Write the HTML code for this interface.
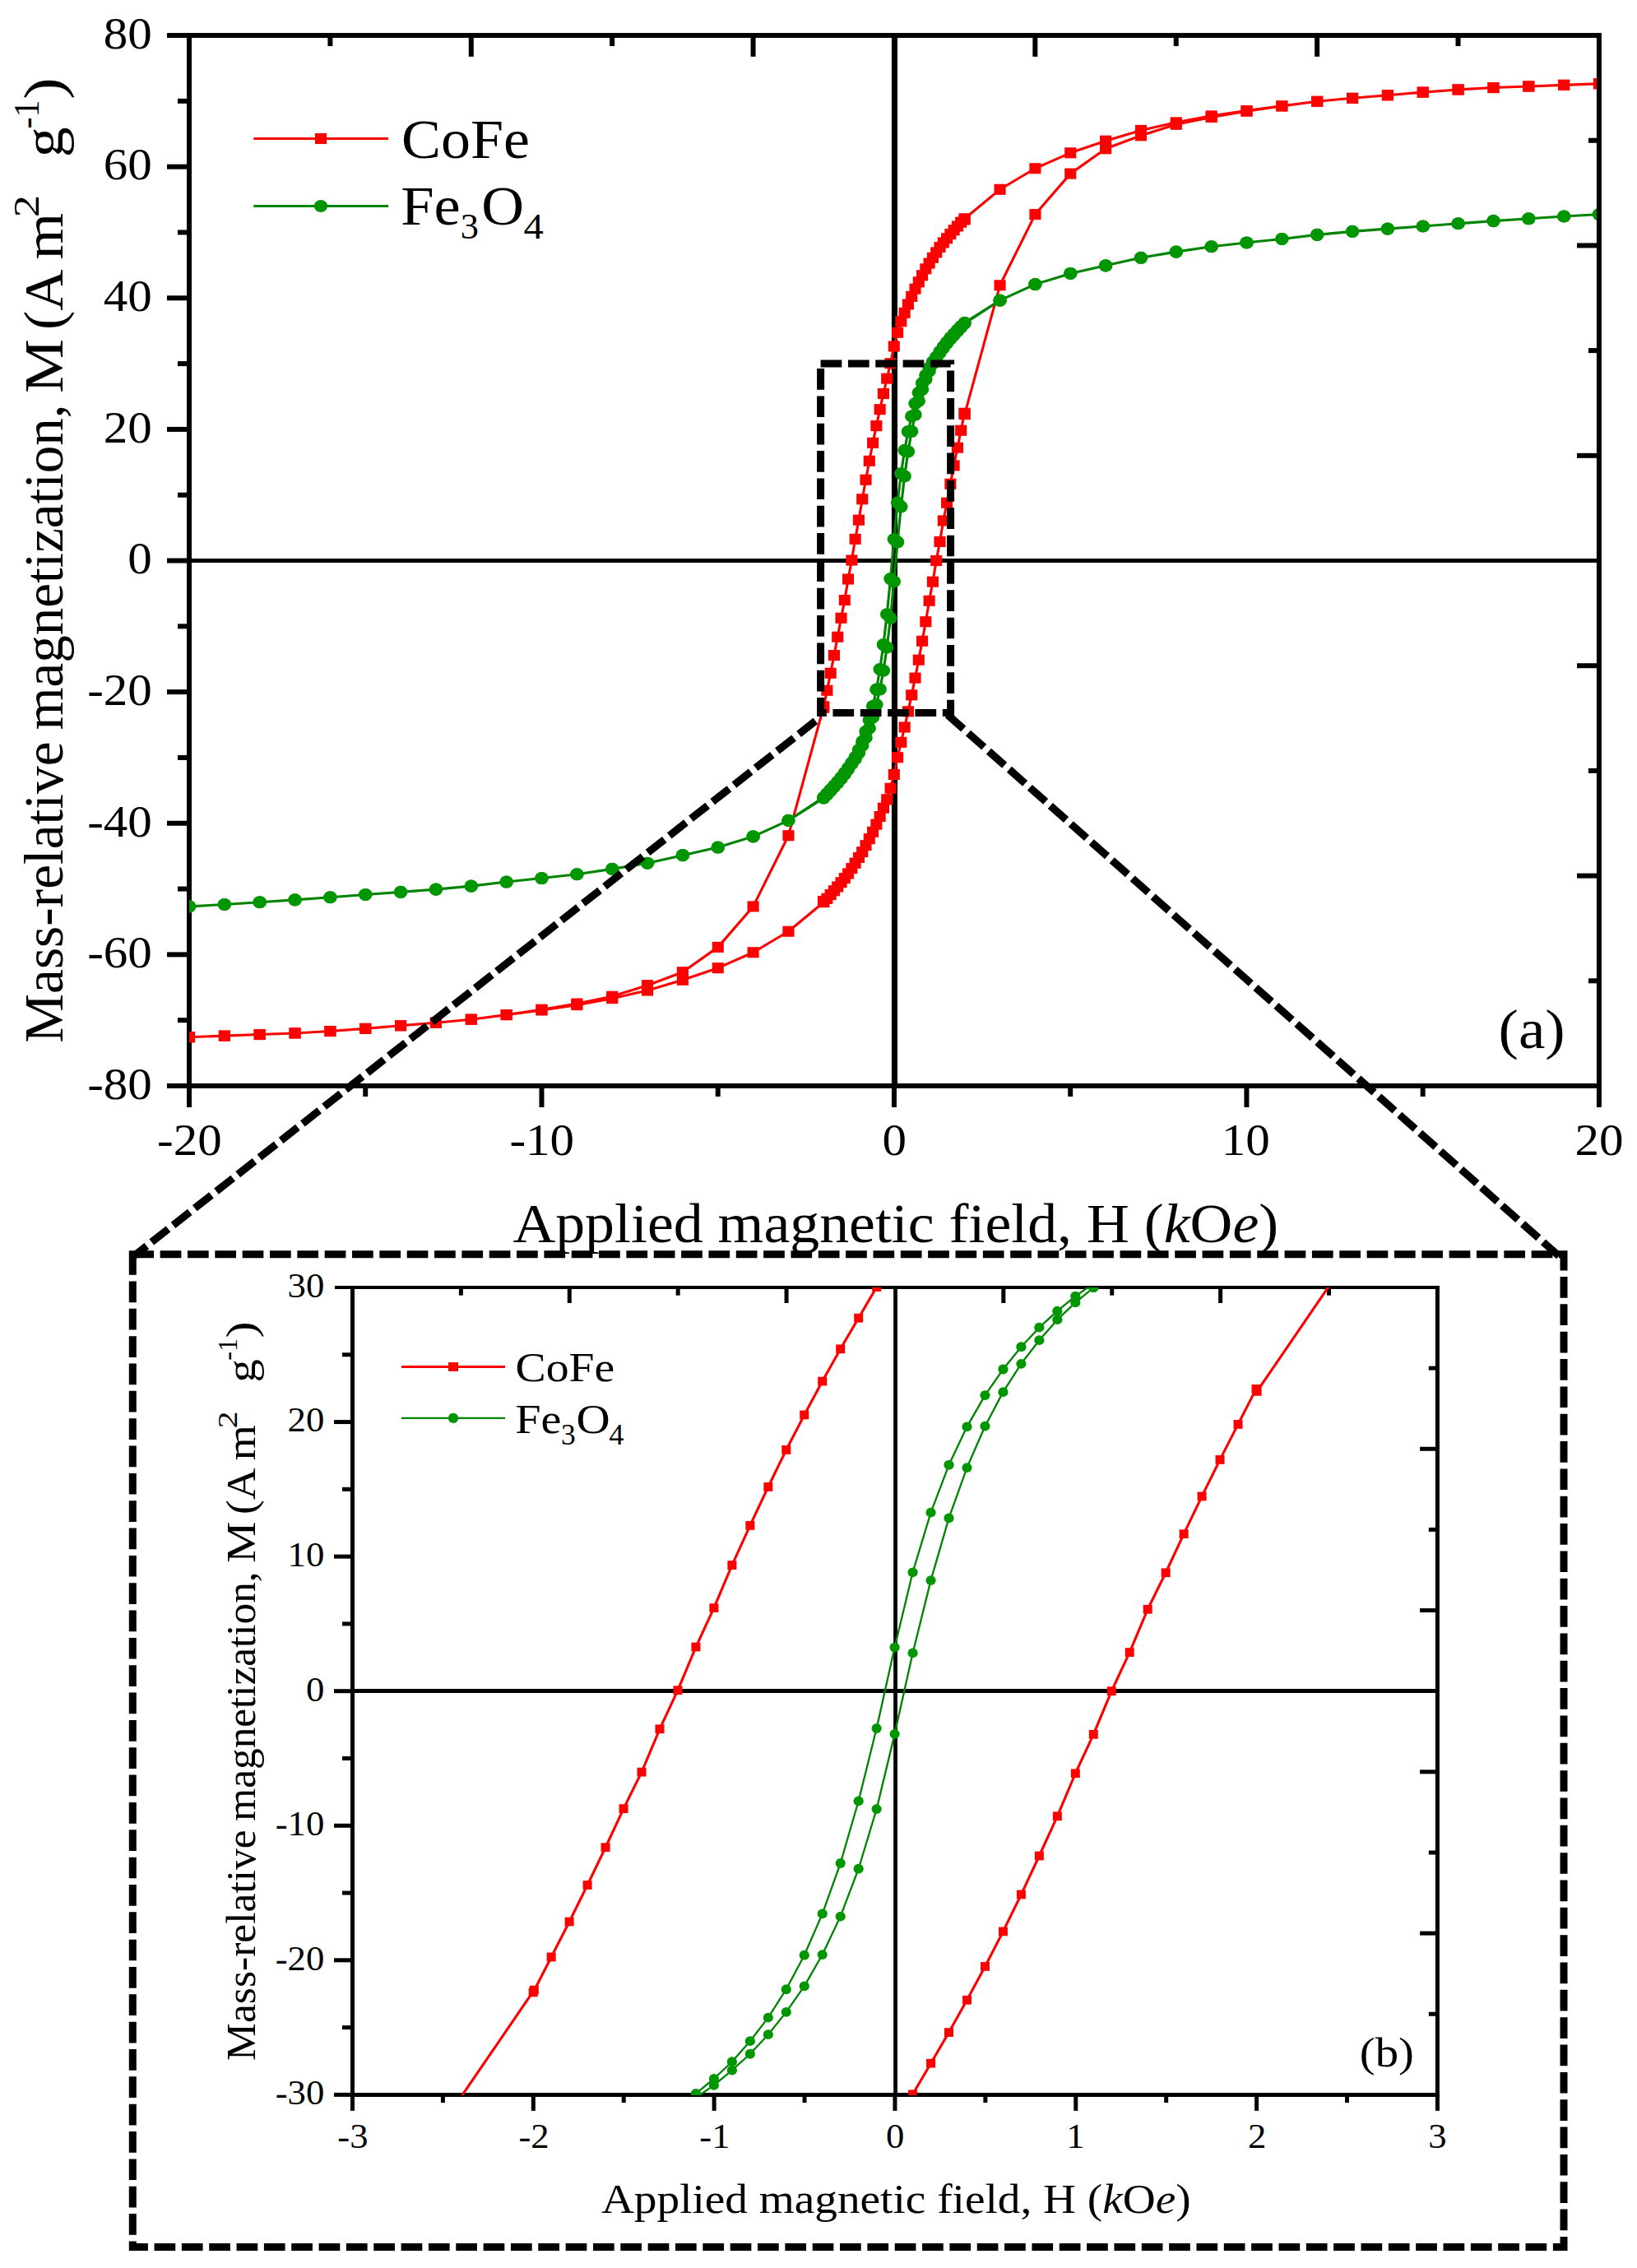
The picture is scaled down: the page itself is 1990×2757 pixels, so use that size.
<!DOCTYPE html>
<html lang="en"><head><meta charset="utf-8"><title>Magnetization hysteresis loops: CoFe and Fe3O4</title>
<style>
html,body{margin:0;padding:0;background:#fff;}
body{width:1990px;height:2757px;overflow:hidden;}
svg{display:block;}
text{white-space:pre;}
</style></head><body>
<svg width="1990" height="2757" viewBox="0 0 1990 2757" font-family="'Liberation Serif', serif" fill="#000">
<defs>
<clipPath id="ca"><rect x="230" y="43.05" width="1711.1" height="1276.95"/></clipPath>
<clipPath id="cb"><rect x="428.5" y="1565" width="1316.5" height="981.9"/></clipPath>
</defs>
<rect width="1990" height="2757" fill="#fff"/>
<!-- panel (a): full hysteresis loops -->
<g id="panel-a">
<rect x="230" y="43.05" width="1713.9" height="1276.95" fill="none" stroke="#000" stroke-width="6.0"/>
<line x1="203" y1="1320" x2="230" y2="1320" stroke="#000" stroke-width="6" />
<line x1="216" y1="1240.19" x2="230" y2="1240.19" stroke="#000" stroke-width="6" />
<line x1="203" y1="1160.38" x2="230" y2="1160.38" stroke="#000" stroke-width="6" />
<line x1="216" y1="1080.57" x2="230" y2="1080.57" stroke="#000" stroke-width="6" />
<line x1="203" y1="1000.76" x2="230" y2="1000.76" stroke="#000" stroke-width="6" />
<line x1="216" y1="920.95" x2="230" y2="920.95" stroke="#000" stroke-width="6" />
<line x1="203" y1="841.14" x2="230" y2="841.14" stroke="#000" stroke-width="6" />
<line x1="216" y1="761.33" x2="230" y2="761.33" stroke="#000" stroke-width="6" />
<line x1="203" y1="681.52" x2="230" y2="681.52" stroke="#000" stroke-width="6" />
<line x1="216" y1="601.72" x2="230" y2="601.72" stroke="#000" stroke-width="6" />
<line x1="203" y1="521.91" x2="230" y2="521.91" stroke="#000" stroke-width="6" />
<line x1="216" y1="442.1" x2="230" y2="442.1" stroke="#000" stroke-width="6" />
<line x1="203" y1="362.29" x2="230" y2="362.29" stroke="#000" stroke-width="6" />
<line x1="216" y1="282.48" x2="230" y2="282.48" stroke="#000" stroke-width="6" />
<line x1="203" y1="202.67" x2="230" y2="202.67" stroke="#000" stroke-width="6" />
<line x1="216" y1="122.86" x2="230" y2="122.86" stroke="#000" stroke-width="6" />
<line x1="203" y1="43.05" x2="230" y2="43.05" stroke="#000" stroke-width="6" />
<line x1="230" y1="1320" x2="230" y2="1346" stroke="#000" stroke-width="6" />
<line x1="444.24" y1="1320" x2="444.24" y2="1333" stroke="#000" stroke-width="6" />
<line x1="658.48" y1="1320" x2="658.48" y2="1346" stroke="#000" stroke-width="6" />
<line x1="872.71" y1="1320" x2="872.71" y2="1333" stroke="#000" stroke-width="6" />
<line x1="1086.95" y1="1320" x2="1086.95" y2="1346" stroke="#000" stroke-width="6" />
<line x1="1301.19" y1="1320" x2="1301.19" y2="1333" stroke="#000" stroke-width="6" />
<line x1="1515.43" y1="1320" x2="1515.43" y2="1346" stroke="#000" stroke-width="6" />
<line x1="1729.66" y1="1320" x2="1729.66" y2="1333" stroke="#000" stroke-width="6" />
<line x1="1943.9" y1="1320" x2="1943.9" y2="1346" stroke="#000" stroke-width="6" />
<line x1="401.39" y1="43.05" x2="401.39" y2="56.05" stroke="#000" stroke-width="6" />
<line x1="572.78" y1="43.05" x2="572.78" y2="68.85" stroke="#000" stroke-width="6" />
<line x1="744.17" y1="43.05" x2="744.17" y2="56.05" stroke="#000" stroke-width="6" />
<line x1="915.56" y1="43.05" x2="915.56" y2="68.85" stroke="#000" stroke-width="6" />
<line x1="1258.34" y1="43.05" x2="1258.34" y2="68.85" stroke="#000" stroke-width="6" />
<line x1="1429.73" y1="43.05" x2="1429.73" y2="56.05" stroke="#000" stroke-width="6" />
<line x1="1601.12" y1="43.05" x2="1601.12" y2="68.85" stroke="#000" stroke-width="6" />
<line x1="1772.51" y1="43.05" x2="1772.51" y2="56.05" stroke="#000" stroke-width="6" />
<line x1="1930.9" y1="1192.31" x2="1943.9" y2="1192.31" stroke="#000" stroke-width="6" />
<line x1="1917" y1="1064.61" x2="1943.9" y2="1064.61" stroke="#000" stroke-width="6" />
<line x1="1930.9" y1="936.91" x2="1943.9" y2="936.91" stroke="#000" stroke-width="6" />
<line x1="1917" y1="809.22" x2="1943.9" y2="809.22" stroke="#000" stroke-width="6" />
<line x1="1917" y1="553.83" x2="1943.9" y2="553.83" stroke="#000" stroke-width="6" />
<line x1="1930.9" y1="426.13" x2="1943.9" y2="426.13" stroke="#000" stroke-width="6" />
<line x1="1917" y1="298.44" x2="1943.9" y2="298.44" stroke="#000" stroke-width="6" />
<line x1="1930.9" y1="170.74" x2="1943.9" y2="170.74" stroke="#000" stroke-width="6" />
<line x1="1087.46" y1="43.05" x2="1087.46" y2="1320" stroke="#000" stroke-width="7.1" />
<line x1="230" y1="681.4" x2="1943.9" y2="681.4" stroke="#000" stroke-width="5" />
<text transform="translate(106.16,1335.8) scale(1.0850,1)" font-size="54.4">-80</text>
<text transform="translate(106.16,1176.18) scale(1.0850,1)" font-size="54.4">-60</text>
<text transform="translate(106.16,1016.56) scale(1.0850,1)" font-size="54.4">-40</text>
<text transform="translate(106.16,856.94) scale(1.0850,1)" font-size="54.4">-20</text>
<text transform="translate(155.3,697.32) scale(1.0850,1)" font-size="54.4">0</text>
<text transform="translate(125.79,537.71) scale(1.0850,1)" font-size="54.4">20</text>
<text transform="translate(125.79,378.09) scale(1.0850,1)" font-size="54.4">40</text>
<text transform="translate(125.79,218.47) scale(1.0850,1)" font-size="54.4">60</text>
<text transform="translate(125.79,58.85) scale(1.0850,1)" font-size="54.4">80</text>
<text transform="translate(190.98,1404) scale(1.0850,1)" font-size="54.4">-20</text>
<text transform="translate(619.45,1404) scale(1.0850,1)" font-size="54.4">-10</text>
<text transform="translate(1072.49,1404) scale(1.0850,1)" font-size="54.4">0</text>
<text transform="translate(1484.74,1404) scale(1.0850,1)" font-size="54.4">10</text>
<text transform="translate(1914.54,1404) scale(1.0850,1)" font-size="54.4">20</text>
<text transform="translate(623.38,1509.6) scale(1.0747,1)" font-size="66.8">Applied magnetic field, H (<tspan font-style="italic">k</tspan>O<tspan font-style="italic">e</tspan>)</text>
<text transform="translate(75.9,0) rotate(-90)">
<tspan x="-1267.85" y="0" font-size="67.3" textLength="366.41" lengthAdjust="spacingAndGlyphs">Mass-relative</tspan><tspan x="-904.28" y="0" font-size="67.3" textLength="412.74" lengthAdjust="spacingAndGlyphs"> magnetization,</tspan><tspan x="-496.6" y="0" font-size="67.3" textLength="84.57" lengthAdjust="spacingAndGlyphs"> M</tspan><tspan x="-418.4" y="0" font-size="67.3" textLength="91.04" lengthAdjust="spacingAndGlyphs"> (A</tspan><tspan x="-333.67" y="0" font-size="67.3" textLength="74.89" lengthAdjust="spacingAndGlyphs"> m</tspan><tspan x="-264.31" y="-28.9" font-size="44.7" textLength="27.2" lengthAdjust="spacingAndGlyphs">2</tspan><tspan x="-228.25" y="0" font-size="67.3" textLength="73.83" lengthAdjust="spacingAndGlyphs">  g</tspan><tspan x="-156.48" y="-28.9" font-size="44.7" textLength="35.02" lengthAdjust="spacingAndGlyphs">-1</tspan><tspan x="-120.89" y="0" font-size="67.3" textLength="26.51" lengthAdjust="spacingAndGlyphs">)</tspan>
</text>
<text transform="translate(1821.6,1274.3) scale(1.0843,1)" font-size="67.3">(a)</text>
<g clip-path="url(#ca)">
<path d="M1944,101.77 L1901.15,103.36 L1858.3,104.96 L1815.45,106.56 L1772.6,108.95 L1729.75,112.14 L1686.9,115.73 L1644.05,119.33 L1601.2,123.32 L1558.35,128.9 L1515.5,134.49 L1472.65,140.88 L1429.8,148.86 L1386.95,158.44 L1344.1,171.21 L1301.25,185.82 L1258.4,204.73 L1215.55,230.27 L1172.7,265.79 L1172.49,266.99 L1168.2,270.18 L1163.92,274.97 L1159.63,279.76 L1155.35,284.55 L1151.06,289.74 L1146.78,294.93 L1142.49,300.51 L1138.21,306.9 L1133.92,313.29 L1129.64,320.07 L1125.35,326.85 L1121.07,334.84 L1116.78,342.82 L1112.5,351.2 L1108.21,360.38 L1103.93,369.96 L1099.64,380.33 L1095.36,390.71 L1091.07,404.28 L1086.79,421.04 L1082.5,441.79 L1078.22,460.15 L1073.93,478.51 L1069.65,497.67 L1065.36,517.62 L1061.08,538.37 L1056.79,560.32 L1052.51,583.23 L1048.22,606.78 L1043.94,632.16 L1039.65,655.31 L1035.37,681.01 L1031.08,704 L1026.8,729.54 L1022.51,751.25 L1018.23,774.24 L1013.94,796.59 L1009.66,818.3 L1005.37,839.29 L1001.09,860.28 L1001.3,858.85 L958.45,1015.69 L915.6,1101.89 L872.75,1151.38 L829.9,1181.71 L787.05,1197.68 L744.2,1211.25 L701.35,1220.03 L658.5,1227.21 L615.65,1233.6 L572.8,1239.18 L529.95,1243.17 L487.1,1246.77 L444.25,1250.36 L401.4,1253.55 L358.55,1255.94 L315.7,1257.54 L272.85,1259.14 L230,1260.73 L230,1260.73 L272.85,1259.14 L315.7,1257.54 L358.55,1255.94 L401.4,1253.55 L444.25,1250.36 L487.1,1246.77 L529.95,1243.17 L572.8,1239.18 L615.65,1233.6 L658.5,1228.01 L701.35,1221.62 L744.2,1213.64 L787.05,1204.06 L829.9,1191.29 L872.75,1176.68 L915.6,1157.77 L958.45,1132.23 L1001.3,1096.71 L1001.09,1095.51 L1005.37,1092.32 L1009.66,1087.53 L1013.94,1082.74 L1018.23,1077.95 L1022.51,1072.76 L1026.8,1067.57 L1031.08,1061.99 L1035.37,1055.6 L1039.65,1049.21 L1043.94,1042.43 L1048.22,1035.65 L1052.51,1027.66 L1056.79,1019.68 L1061.08,1011.3 L1065.36,1002.12 L1069.65,992.54 L1073.93,982.17 L1078.22,971.79 L1082.5,958.22 L1086.79,941.46 L1091.07,920.71 L1095.36,902.35 L1099.64,883.99 L1103.93,864.83 L1108.21,844.88 L1112.5,824.13 L1116.78,802.18 L1121.07,779.27 L1125.35,755.72 L1129.64,730.34 L1133.92,707.19 L1138.21,681.49 L1142.49,658.5 L1146.78,632.96 L1151.06,611.25 L1155.35,588.26 L1159.63,565.91 L1163.92,544.2 L1168.2,523.21 L1172.49,502.22 L1172.7,503.65 L1215.55,346.81 L1258.4,260.61 L1301.25,211.12 L1344.1,180.79 L1386.95,164.82 L1429.8,151.25 L1472.65,142.47 L1515.5,135.29 L1558.35,128.9 L1601.2,123.32 L1644.05,119.33 L1686.9,115.73 L1729.75,112.14 L1772.6,108.95 L1815.45,106.56 L1858.3,104.96 L1901.15,103.36 L1944,101.77" fill="none" stroke="#ff0000" stroke-width="3.1" stroke-linejoin="round"/>
<rect x="1936.95" y="95.22" width="14.1" height="13.1" fill="#ff0000"/>
<rect x="1894.1" y="96.81" width="14.1" height="13.1" fill="#ff0000"/>
<rect x="1851.25" y="98.41" width="14.1" height="13.1" fill="#ff0000"/>
<rect x="1808.4" y="100.01" width="14.1" height="13.1" fill="#ff0000"/>
<rect x="1765.55" y="102.4" width="14.1" height="13.1" fill="#ff0000"/>
<rect x="1722.7" y="105.59" width="14.1" height="13.1" fill="#ff0000"/>
<rect x="1679.85" y="109.18" width="14.1" height="13.1" fill="#ff0000"/>
<rect x="1637" y="112.78" width="14.1" height="13.1" fill="#ff0000"/>
<rect x="1594.15" y="116.77" width="14.1" height="13.1" fill="#ff0000"/>
<rect x="1551.3" y="122.35" width="14.1" height="13.1" fill="#ff0000"/>
<rect x="1508.45" y="127.94" width="14.1" height="13.1" fill="#ff0000"/>
<rect x="1465.6" y="134.33" width="14.1" height="13.1" fill="#ff0000"/>
<rect x="1422.75" y="142.31" width="14.1" height="13.1" fill="#ff0000"/>
<rect x="1379.9" y="151.89" width="14.1" height="13.1" fill="#ff0000"/>
<rect x="1337.05" y="164.66" width="14.1" height="13.1" fill="#ff0000"/>
<rect x="1294.2" y="179.27" width="14.1" height="13.1" fill="#ff0000"/>
<rect x="1251.35" y="198.18" width="14.1" height="13.1" fill="#ff0000"/>
<rect x="1208.5" y="223.72" width="14.1" height="13.1" fill="#ff0000"/>
<rect x="1165.65" y="259.24" width="14.1" height="13.1" fill="#ff0000"/>
<rect x="1165.44" y="260.44" width="14.1" height="13.1" fill="#ff0000"/>
<rect x="1161.15" y="263.63" width="14.1" height="13.1" fill="#ff0000"/>
<rect x="1156.87" y="268.42" width="14.1" height="13.1" fill="#ff0000"/>
<rect x="1152.58" y="273.21" width="14.1" height="13.1" fill="#ff0000"/>
<rect x="1148.3" y="278" width="14.1" height="13.1" fill="#ff0000"/>
<rect x="1144.01" y="283.19" width="14.1" height="13.1" fill="#ff0000"/>
<rect x="1139.73" y="288.38" width="14.1" height="13.1" fill="#ff0000"/>
<rect x="1135.44" y="293.96" width="14.1" height="13.1" fill="#ff0000"/>
<rect x="1131.16" y="300.35" width="14.1" height="13.1" fill="#ff0000"/>
<rect x="1126.87" y="306.74" width="14.1" height="13.1" fill="#ff0000"/>
<rect x="1122.59" y="313.52" width="14.1" height="13.1" fill="#ff0000"/>
<rect x="1118.3" y="320.3" width="14.1" height="13.1" fill="#ff0000"/>
<rect x="1114.02" y="328.29" width="14.1" height="13.1" fill="#ff0000"/>
<rect x="1109.73" y="336.27" width="14.1" height="13.1" fill="#ff0000"/>
<rect x="1105.45" y="344.65" width="14.1" height="13.1" fill="#ff0000"/>
<rect x="1101.16" y="353.83" width="14.1" height="13.1" fill="#ff0000"/>
<rect x="1096.88" y="363.41" width="14.1" height="13.1" fill="#ff0000"/>
<rect x="1092.59" y="373.78" width="14.1" height="13.1" fill="#ff0000"/>
<rect x="1088.31" y="384.16" width="14.1" height="13.1" fill="#ff0000"/>
<rect x="1084.02" y="397.73" width="14.1" height="13.1" fill="#ff0000"/>
<rect x="1079.74" y="414.49" width="14.1" height="13.1" fill="#ff0000"/>
<rect x="1075.45" y="435.24" width="14.1" height="13.1" fill="#ff0000"/>
<rect x="1071.17" y="453.6" width="14.1" height="13.1" fill="#ff0000"/>
<rect x="1066.88" y="471.96" width="14.1" height="13.1" fill="#ff0000"/>
<rect x="1062.6" y="491.12" width="14.1" height="13.1" fill="#ff0000"/>
<rect x="1058.31" y="511.07" width="14.1" height="13.1" fill="#ff0000"/>
<rect x="1054.03" y="531.82" width="14.1" height="13.1" fill="#ff0000"/>
<rect x="1049.74" y="553.77" width="14.1" height="13.1" fill="#ff0000"/>
<rect x="1045.46" y="576.68" width="14.1" height="13.1" fill="#ff0000"/>
<rect x="1041.17" y="600.23" width="14.1" height="13.1" fill="#ff0000"/>
<rect x="1036.89" y="625.61" width="14.1" height="13.1" fill="#ff0000"/>
<rect x="1032.6" y="648.76" width="14.1" height="13.1" fill="#ff0000"/>
<rect x="1028.32" y="674.46" width="14.1" height="13.1" fill="#ff0000"/>
<rect x="1024.03" y="697.45" width="14.1" height="13.1" fill="#ff0000"/>
<rect x="1019.75" y="722.99" width="14.1" height="13.1" fill="#ff0000"/>
<rect x="1015.46" y="744.7" width="14.1" height="13.1" fill="#ff0000"/>
<rect x="1011.18" y="767.69" width="14.1" height="13.1" fill="#ff0000"/>
<rect x="1006.89" y="790.04" width="14.1" height="13.1" fill="#ff0000"/>
<rect x="1002.61" y="811.75" width="14.1" height="13.1" fill="#ff0000"/>
<rect x="998.32" y="832.74" width="14.1" height="13.1" fill="#ff0000"/>
<rect x="994.04" y="853.73" width="14.1" height="13.1" fill="#ff0000"/>
<rect x="994.25" y="852.3" width="14.1" height="13.1" fill="#ff0000"/>
<rect x="951.4" y="1009.14" width="14.1" height="13.1" fill="#ff0000"/>
<rect x="908.55" y="1095.34" width="14.1" height="13.1" fill="#ff0000"/>
<rect x="865.7" y="1144.83" width="14.1" height="13.1" fill="#ff0000"/>
<rect x="822.85" y="1175.16" width="14.1" height="13.1" fill="#ff0000"/>
<rect x="780" y="1191.13" width="14.1" height="13.1" fill="#ff0000"/>
<rect x="737.15" y="1204.7" width="14.1" height="13.1" fill="#ff0000"/>
<rect x="694.3" y="1213.48" width="14.1" height="13.1" fill="#ff0000"/>
<rect x="651.45" y="1220.66" width="14.1" height="13.1" fill="#ff0000"/>
<rect x="608.6" y="1227.05" width="14.1" height="13.1" fill="#ff0000"/>
<rect x="565.75" y="1232.63" width="14.1" height="13.1" fill="#ff0000"/>
<rect x="522.9" y="1236.62" width="14.1" height="13.1" fill="#ff0000"/>
<rect x="480.05" y="1240.22" width="14.1" height="13.1" fill="#ff0000"/>
<rect x="437.2" y="1243.81" width="14.1" height="13.1" fill="#ff0000"/>
<rect x="394.35" y="1247" width="14.1" height="13.1" fill="#ff0000"/>
<rect x="351.5" y="1249.39" width="14.1" height="13.1" fill="#ff0000"/>
<rect x="308.65" y="1250.99" width="14.1" height="13.1" fill="#ff0000"/>
<rect x="265.8" y="1252.59" width="14.1" height="13.1" fill="#ff0000"/>
<rect x="222.95" y="1254.18" width="14.1" height="13.1" fill="#ff0000"/>
<rect x="222.95" y="1254.18" width="14.1" height="13.1" fill="#ff0000"/>
<rect x="265.8" y="1252.59" width="14.1" height="13.1" fill="#ff0000"/>
<rect x="308.65" y="1250.99" width="14.1" height="13.1" fill="#ff0000"/>
<rect x="351.5" y="1249.39" width="14.1" height="13.1" fill="#ff0000"/>
<rect x="394.35" y="1247" width="14.1" height="13.1" fill="#ff0000"/>
<rect x="437.2" y="1243.81" width="14.1" height="13.1" fill="#ff0000"/>
<rect x="480.05" y="1240.22" width="14.1" height="13.1" fill="#ff0000"/>
<rect x="522.9" y="1236.62" width="14.1" height="13.1" fill="#ff0000"/>
<rect x="565.75" y="1232.63" width="14.1" height="13.1" fill="#ff0000"/>
<rect x="608.6" y="1227.05" width="14.1" height="13.1" fill="#ff0000"/>
<rect x="651.45" y="1221.46" width="14.1" height="13.1" fill="#ff0000"/>
<rect x="694.3" y="1215.07" width="14.1" height="13.1" fill="#ff0000"/>
<rect x="737.15" y="1207.09" width="14.1" height="13.1" fill="#ff0000"/>
<rect x="780" y="1197.51" width="14.1" height="13.1" fill="#ff0000"/>
<rect x="822.85" y="1184.74" width="14.1" height="13.1" fill="#ff0000"/>
<rect x="865.7" y="1170.13" width="14.1" height="13.1" fill="#ff0000"/>
<rect x="908.55" y="1151.22" width="14.1" height="13.1" fill="#ff0000"/>
<rect x="951.4" y="1125.68" width="14.1" height="13.1" fill="#ff0000"/>
<rect x="994.25" y="1090.16" width="14.1" height="13.1" fill="#ff0000"/>
<rect x="994.04" y="1088.96" width="14.1" height="13.1" fill="#ff0000"/>
<rect x="998.32" y="1085.77" width="14.1" height="13.1" fill="#ff0000"/>
<rect x="1002.61" y="1080.98" width="14.1" height="13.1" fill="#ff0000"/>
<rect x="1006.89" y="1076.19" width="14.1" height="13.1" fill="#ff0000"/>
<rect x="1011.18" y="1071.4" width="14.1" height="13.1" fill="#ff0000"/>
<rect x="1015.46" y="1066.21" width="14.1" height="13.1" fill="#ff0000"/>
<rect x="1019.75" y="1061.02" width="14.1" height="13.1" fill="#ff0000"/>
<rect x="1024.03" y="1055.44" width="14.1" height="13.1" fill="#ff0000"/>
<rect x="1028.32" y="1049.05" width="14.1" height="13.1" fill="#ff0000"/>
<rect x="1032.6" y="1042.66" width="14.1" height="13.1" fill="#ff0000"/>
<rect x="1036.89" y="1035.88" width="14.1" height="13.1" fill="#ff0000"/>
<rect x="1041.17" y="1029.1" width="14.1" height="13.1" fill="#ff0000"/>
<rect x="1045.46" y="1021.11" width="14.1" height="13.1" fill="#ff0000"/>
<rect x="1049.74" y="1013.13" width="14.1" height="13.1" fill="#ff0000"/>
<rect x="1054.03" y="1004.75" width="14.1" height="13.1" fill="#ff0000"/>
<rect x="1058.31" y="995.57" width="14.1" height="13.1" fill="#ff0000"/>
<rect x="1062.6" y="985.99" width="14.1" height="13.1" fill="#ff0000"/>
<rect x="1066.88" y="975.62" width="14.1" height="13.1" fill="#ff0000"/>
<rect x="1071.17" y="965.24" width="14.1" height="13.1" fill="#ff0000"/>
<rect x="1075.45" y="951.67" width="14.1" height="13.1" fill="#ff0000"/>
<rect x="1079.74" y="934.91" width="14.1" height="13.1" fill="#ff0000"/>
<rect x="1084.02" y="914.16" width="14.1" height="13.1" fill="#ff0000"/>
<rect x="1088.31" y="895.8" width="14.1" height="13.1" fill="#ff0000"/>
<rect x="1092.59" y="877.44" width="14.1" height="13.1" fill="#ff0000"/>
<rect x="1096.88" y="858.28" width="14.1" height="13.1" fill="#ff0000"/>
<rect x="1101.16" y="838.33" width="14.1" height="13.1" fill="#ff0000"/>
<rect x="1105.45" y="817.58" width="14.1" height="13.1" fill="#ff0000"/>
<rect x="1109.73" y="795.63" width="14.1" height="13.1" fill="#ff0000"/>
<rect x="1114.02" y="772.72" width="14.1" height="13.1" fill="#ff0000"/>
<rect x="1118.3" y="749.17" width="14.1" height="13.1" fill="#ff0000"/>
<rect x="1122.59" y="723.79" width="14.1" height="13.1" fill="#ff0000"/>
<rect x="1126.87" y="700.64" width="14.1" height="13.1" fill="#ff0000"/>
<rect x="1131.16" y="674.94" width="14.1" height="13.1" fill="#ff0000"/>
<rect x="1135.44" y="651.95" width="14.1" height="13.1" fill="#ff0000"/>
<rect x="1139.73" y="626.41" width="14.1" height="13.1" fill="#ff0000"/>
<rect x="1144.01" y="604.7" width="14.1" height="13.1" fill="#ff0000"/>
<rect x="1148.3" y="581.71" width="14.1" height="13.1" fill="#ff0000"/>
<rect x="1152.58" y="559.36" width="14.1" height="13.1" fill="#ff0000"/>
<rect x="1156.87" y="537.65" width="14.1" height="13.1" fill="#ff0000"/>
<rect x="1161.15" y="516.66" width="14.1" height="13.1" fill="#ff0000"/>
<rect x="1165.44" y="495.67" width="14.1" height="13.1" fill="#ff0000"/>
<rect x="1165.65" y="497.1" width="14.1" height="13.1" fill="#ff0000"/>
<rect x="1208.5" y="340.26" width="14.1" height="13.1" fill="#ff0000"/>
<rect x="1251.35" y="254.06" width="14.1" height="13.1" fill="#ff0000"/>
<rect x="1294.2" y="204.57" width="14.1" height="13.1" fill="#ff0000"/>
<rect x="1337.05" y="174.24" width="14.1" height="13.1" fill="#ff0000"/>
<rect x="1379.9" y="158.27" width="14.1" height="13.1" fill="#ff0000"/>
<rect x="1422.75" y="144.7" width="14.1" height="13.1" fill="#ff0000"/>
<rect x="1465.6" y="135.92" width="14.1" height="13.1" fill="#ff0000"/>
<rect x="1508.45" y="128.74" width="14.1" height="13.1" fill="#ff0000"/>
<rect x="1551.3" y="122.35" width="14.1" height="13.1" fill="#ff0000"/>
<rect x="1594.15" y="116.77" width="14.1" height="13.1" fill="#ff0000"/>
<rect x="1637" y="112.78" width="14.1" height="13.1" fill="#ff0000"/>
<rect x="1679.85" y="109.18" width="14.1" height="13.1" fill="#ff0000"/>
<rect x="1722.7" y="105.59" width="14.1" height="13.1" fill="#ff0000"/>
<rect x="1765.55" y="102.4" width="14.1" height="13.1" fill="#ff0000"/>
<rect x="1808.4" y="100.01" width="14.1" height="13.1" fill="#ff0000"/>
<rect x="1851.25" y="98.41" width="14.1" height="13.1" fill="#ff0000"/>
<rect x="1894.1" y="96.81" width="14.1" height="13.1" fill="#ff0000"/>
<rect x="1936.95" y="95.22" width="14.1" height="13.1" fill="#ff0000"/>
</g>
<g clip-path="url(#ca)">
<path d="M1944,260.61 L1901.15,263 L1858.3,265.79 L1815.45,268.59 L1772.6,271.78 L1729.75,274.97 L1686.9,278.17 L1644.05,281.36 L1601.2,285.35 L1558.35,290.46 L1515.5,294.93 L1472.65,299.72 L1429.8,306.1 L1386.95,313.29 L1344.1,322.86 L1301.25,332.44 L1258.4,345.61 L1215.55,365.17 L1172.7,392.31 L1168.2,396.7 L1163.92,401.09 L1159.63,405.88 L1155.35,410.66 L1151.06,415.85 L1146.78,421.44 L1142.49,427.43 L1138.21,433.81 L1133.92,439.8 L1129.64,447.14 L1125.35,456 L1121.07,465.74 L1116.78,477.23 L1112.5,490.56 L1108.21,505.97 L1103.93,524.65 L1099.64,547.31 L1095.36,575.57 L1091.07,611.01 L1086.79,655.55 L1082.5,703.6 L1078.22,746.7 L1073.93,783.66 L1069.65,813.59 L1065.36,838.17 L1061.08,858.45 L1056.79,875.21 L1052.51,889.18 L1048.22,901.39 L1043.94,911.53 L1039.65,920.31 L1035.37,927.09 L1031.08,933.48 L1026.8,939.46 L1022.51,945.05 L1018.23,950.24 L1013.94,955.03 L1009.66,959.82 L1005.37,964.61 L1001.09,969.4 L958.45,997.33 L915.6,1016.89 L872.75,1030.06 L829.9,1039.64 L787.05,1049.21 L744.2,1056.4 L701.35,1062.78 L658.5,1067.57 L615.65,1072.04 L572.8,1077.15 L529.95,1081.14 L487.1,1084.33 L444.25,1087.53 L401.4,1090.72 L358.55,1093.91 L315.7,1096.71 L272.85,1099.5 L230,1101.89 L230,1101.89 L272.85,1099.5 L315.7,1096.71 L358.55,1093.91 L401.4,1090.72 L444.25,1087.53 L487.1,1084.33 L529.95,1081.14 L572.8,1077.15 L615.65,1072.04 L658.5,1067.57 L701.35,1062.78 L744.2,1056.4 L787.05,1049.21 L829.9,1039.64 L872.75,1030.06 L915.6,1016.89 L958.45,997.33 L1001.3,970.19 L1005.37,965.8 L1009.66,961.41 L1013.94,956.62 L1018.23,951.84 L1022.51,946.65 L1026.8,941.06 L1031.08,935.07 L1035.37,928.69 L1039.65,922.7 L1043.94,915.36 L1048.22,906.5 L1052.51,896.76 L1056.79,885.27 L1061.08,871.94 L1065.36,856.53 L1069.65,837.85 L1073.93,815.19 L1078.22,786.93 L1082.5,751.49 L1086.79,706.95 L1091.07,658.9 L1095.36,615.8 L1099.64,578.84 L1103.93,548.91 L1108.21,524.33 L1112.5,504.05 L1116.78,487.29 L1121.07,473.32 L1125.35,461.11 L1129.64,450.97 L1133.92,442.19 L1138.21,435.41 L1142.49,429.02 L1146.78,423.04 L1151.06,417.45 L1155.35,412.26 L1159.63,407.47 L1163.92,402.68 L1168.2,397.89 L1172.49,393.1 L1215.55,365.17 L1258.4,345.61 L1301.25,332.44 L1344.1,322.86 L1386.95,313.29 L1429.8,306.1 L1472.65,299.72 L1515.5,294.93 L1558.35,290.46 L1601.2,285.35 L1644.05,281.36 L1686.9,278.17 L1729.75,274.97 L1772.6,271.78 L1815.45,268.59 L1858.3,265.79 L1901.15,263 L1944,260.61" fill="none" stroke="#008400" stroke-width="3.1" stroke-linejoin="round"/>
<ellipse cx="1944" cy="260.61" rx="8.2" ry="7.55" fill="#009600"/>
<ellipse cx="1901.15" cy="263" rx="8.2" ry="7.55" fill="#009600"/>
<ellipse cx="1858.3" cy="265.79" rx="8.2" ry="7.55" fill="#009600"/>
<ellipse cx="1815.45" cy="268.59" rx="8.2" ry="7.55" fill="#009600"/>
<ellipse cx="1772.6" cy="271.78" rx="8.2" ry="7.55" fill="#009600"/>
<ellipse cx="1729.75" cy="274.97" rx="8.2" ry="7.55" fill="#009600"/>
<ellipse cx="1686.9" cy="278.17" rx="8.2" ry="7.55" fill="#009600"/>
<ellipse cx="1644.05" cy="281.36" rx="8.2" ry="7.55" fill="#009600"/>
<ellipse cx="1601.2" cy="285.35" rx="8.2" ry="7.55" fill="#009600"/>
<ellipse cx="1558.35" cy="290.46" rx="8.2" ry="7.55" fill="#009600"/>
<ellipse cx="1515.5" cy="294.93" rx="8.2" ry="7.55" fill="#009600"/>
<ellipse cx="1472.65" cy="299.72" rx="8.2" ry="7.55" fill="#009600"/>
<ellipse cx="1429.8" cy="306.1" rx="8.2" ry="7.55" fill="#009600"/>
<ellipse cx="1386.95" cy="313.29" rx="8.2" ry="7.55" fill="#009600"/>
<ellipse cx="1344.1" cy="322.86" rx="8.2" ry="7.55" fill="#009600"/>
<ellipse cx="1301.25" cy="332.44" rx="8.2" ry="7.55" fill="#009600"/>
<ellipse cx="1258.4" cy="345.61" rx="8.2" ry="7.55" fill="#009600"/>
<ellipse cx="1215.55" cy="365.17" rx="8.2" ry="7.55" fill="#009600"/>
<ellipse cx="1172.7" cy="392.31" rx="8.2" ry="7.55" fill="#009600"/>
<ellipse cx="1168.2" cy="396.7" rx="8.2" ry="7.55" fill="#009600"/>
<ellipse cx="1163.92" cy="401.09" rx="8.2" ry="7.55" fill="#009600"/>
<ellipse cx="1159.63" cy="405.88" rx="8.2" ry="7.55" fill="#009600"/>
<ellipse cx="1155.35" cy="410.66" rx="8.2" ry="7.55" fill="#009600"/>
<ellipse cx="1151.06" cy="415.85" rx="8.2" ry="7.55" fill="#009600"/>
<ellipse cx="1146.78" cy="421.44" rx="8.2" ry="7.55" fill="#009600"/>
<ellipse cx="1142.49" cy="427.43" rx="8.2" ry="7.55" fill="#009600"/>
<ellipse cx="1138.21" cy="433.81" rx="8.2" ry="7.55" fill="#009600"/>
<ellipse cx="1133.92" cy="439.8" rx="8.2" ry="7.55" fill="#009600"/>
<ellipse cx="1129.64" cy="447.14" rx="8.2" ry="7.55" fill="#009600"/>
<ellipse cx="1125.35" cy="456" rx="8.2" ry="7.55" fill="#009600"/>
<ellipse cx="1121.07" cy="465.74" rx="8.2" ry="7.55" fill="#009600"/>
<ellipse cx="1116.78" cy="477.23" rx="8.2" ry="7.55" fill="#009600"/>
<ellipse cx="1112.5" cy="490.56" rx="8.2" ry="7.55" fill="#009600"/>
<ellipse cx="1108.21" cy="505.97" rx="8.2" ry="7.55" fill="#009600"/>
<ellipse cx="1103.93" cy="524.65" rx="8.2" ry="7.55" fill="#009600"/>
<ellipse cx="1099.64" cy="547.31" rx="8.2" ry="7.55" fill="#009600"/>
<ellipse cx="1095.36" cy="575.57" rx="8.2" ry="7.55" fill="#009600"/>
<ellipse cx="1091.07" cy="611.01" rx="8.2" ry="7.55" fill="#009600"/>
<ellipse cx="1086.79" cy="655.55" rx="8.2" ry="7.55" fill="#009600"/>
<ellipse cx="1082.5" cy="703.6" rx="8.2" ry="7.55" fill="#009600"/>
<ellipse cx="1078.22" cy="746.7" rx="8.2" ry="7.55" fill="#009600"/>
<ellipse cx="1073.93" cy="783.66" rx="8.2" ry="7.55" fill="#009600"/>
<ellipse cx="1069.65" cy="813.59" rx="8.2" ry="7.55" fill="#009600"/>
<ellipse cx="1065.36" cy="838.17" rx="8.2" ry="7.55" fill="#009600"/>
<ellipse cx="1061.08" cy="858.45" rx="8.2" ry="7.55" fill="#009600"/>
<ellipse cx="1056.79" cy="875.21" rx="8.2" ry="7.55" fill="#009600"/>
<ellipse cx="1052.51" cy="889.18" rx="8.2" ry="7.55" fill="#009600"/>
<ellipse cx="1048.22" cy="901.39" rx="8.2" ry="7.55" fill="#009600"/>
<ellipse cx="1043.94" cy="911.53" rx="8.2" ry="7.55" fill="#009600"/>
<ellipse cx="1039.65" cy="920.31" rx="8.2" ry="7.55" fill="#009600"/>
<ellipse cx="1035.37" cy="927.09" rx="8.2" ry="7.55" fill="#009600"/>
<ellipse cx="1031.08" cy="933.48" rx="8.2" ry="7.55" fill="#009600"/>
<ellipse cx="1026.8" cy="939.46" rx="8.2" ry="7.55" fill="#009600"/>
<ellipse cx="1022.51" cy="945.05" rx="8.2" ry="7.55" fill="#009600"/>
<ellipse cx="1018.23" cy="950.24" rx="8.2" ry="7.55" fill="#009600"/>
<ellipse cx="1013.94" cy="955.03" rx="8.2" ry="7.55" fill="#009600"/>
<ellipse cx="1009.66" cy="959.82" rx="8.2" ry="7.55" fill="#009600"/>
<ellipse cx="1005.37" cy="964.61" rx="8.2" ry="7.55" fill="#009600"/>
<ellipse cx="1001.09" cy="969.4" rx="8.2" ry="7.55" fill="#009600"/>
<ellipse cx="958.45" cy="997.33" rx="8.2" ry="7.55" fill="#009600"/>
<ellipse cx="915.6" cy="1016.89" rx="8.2" ry="7.55" fill="#009600"/>
<ellipse cx="872.75" cy="1030.06" rx="8.2" ry="7.55" fill="#009600"/>
<ellipse cx="829.9" cy="1039.64" rx="8.2" ry="7.55" fill="#009600"/>
<ellipse cx="787.05" cy="1049.21" rx="8.2" ry="7.55" fill="#009600"/>
<ellipse cx="744.2" cy="1056.4" rx="8.2" ry="7.55" fill="#009600"/>
<ellipse cx="701.35" cy="1062.78" rx="8.2" ry="7.55" fill="#009600"/>
<ellipse cx="658.5" cy="1067.57" rx="8.2" ry="7.55" fill="#009600"/>
<ellipse cx="615.65" cy="1072.04" rx="8.2" ry="7.55" fill="#009600"/>
<ellipse cx="572.8" cy="1077.15" rx="8.2" ry="7.55" fill="#009600"/>
<ellipse cx="529.95" cy="1081.14" rx="8.2" ry="7.55" fill="#009600"/>
<ellipse cx="487.1" cy="1084.33" rx="8.2" ry="7.55" fill="#009600"/>
<ellipse cx="444.25" cy="1087.53" rx="8.2" ry="7.55" fill="#009600"/>
<ellipse cx="401.4" cy="1090.72" rx="8.2" ry="7.55" fill="#009600"/>
<ellipse cx="358.55" cy="1093.91" rx="8.2" ry="7.55" fill="#009600"/>
<ellipse cx="315.7" cy="1096.71" rx="8.2" ry="7.55" fill="#009600"/>
<ellipse cx="272.85" cy="1099.5" rx="8.2" ry="7.55" fill="#009600"/>
<ellipse cx="230" cy="1101.89" rx="8.2" ry="7.55" fill="#009600"/>
<ellipse cx="230" cy="1101.89" rx="8.2" ry="7.55" fill="#009600"/>
<ellipse cx="272.85" cy="1099.5" rx="8.2" ry="7.55" fill="#009600"/>
<ellipse cx="315.7" cy="1096.71" rx="8.2" ry="7.55" fill="#009600"/>
<ellipse cx="358.55" cy="1093.91" rx="8.2" ry="7.55" fill="#009600"/>
<ellipse cx="401.4" cy="1090.72" rx="8.2" ry="7.55" fill="#009600"/>
<ellipse cx="444.25" cy="1087.53" rx="8.2" ry="7.55" fill="#009600"/>
<ellipse cx="487.1" cy="1084.33" rx="8.2" ry="7.55" fill="#009600"/>
<ellipse cx="529.95" cy="1081.14" rx="8.2" ry="7.55" fill="#009600"/>
<ellipse cx="572.8" cy="1077.15" rx="8.2" ry="7.55" fill="#009600"/>
<ellipse cx="615.65" cy="1072.04" rx="8.2" ry="7.55" fill="#009600"/>
<ellipse cx="658.5" cy="1067.57" rx="8.2" ry="7.55" fill="#009600"/>
<ellipse cx="701.35" cy="1062.78" rx="8.2" ry="7.55" fill="#009600"/>
<ellipse cx="744.2" cy="1056.4" rx="8.2" ry="7.55" fill="#009600"/>
<ellipse cx="787.05" cy="1049.21" rx="8.2" ry="7.55" fill="#009600"/>
<ellipse cx="829.9" cy="1039.64" rx="8.2" ry="7.55" fill="#009600"/>
<ellipse cx="872.75" cy="1030.06" rx="8.2" ry="7.55" fill="#009600"/>
<ellipse cx="915.6" cy="1016.89" rx="8.2" ry="7.55" fill="#009600"/>
<ellipse cx="958.45" cy="997.33" rx="8.2" ry="7.55" fill="#009600"/>
<ellipse cx="1001.3" cy="970.19" rx="8.2" ry="7.55" fill="#009600"/>
<ellipse cx="1005.37" cy="965.8" rx="8.2" ry="7.55" fill="#009600"/>
<ellipse cx="1009.66" cy="961.41" rx="8.2" ry="7.55" fill="#009600"/>
<ellipse cx="1013.94" cy="956.62" rx="8.2" ry="7.55" fill="#009600"/>
<ellipse cx="1018.23" cy="951.84" rx="8.2" ry="7.55" fill="#009600"/>
<ellipse cx="1022.51" cy="946.65" rx="8.2" ry="7.55" fill="#009600"/>
<ellipse cx="1026.8" cy="941.06" rx="8.2" ry="7.55" fill="#009600"/>
<ellipse cx="1031.08" cy="935.07" rx="8.2" ry="7.55" fill="#009600"/>
<ellipse cx="1035.37" cy="928.69" rx="8.2" ry="7.55" fill="#009600"/>
<ellipse cx="1039.65" cy="922.7" rx="8.2" ry="7.55" fill="#009600"/>
<ellipse cx="1043.94" cy="915.36" rx="8.2" ry="7.55" fill="#009600"/>
<ellipse cx="1048.22" cy="906.5" rx="8.2" ry="7.55" fill="#009600"/>
<ellipse cx="1052.51" cy="896.76" rx="8.2" ry="7.55" fill="#009600"/>
<ellipse cx="1056.79" cy="885.27" rx="8.2" ry="7.55" fill="#009600"/>
<ellipse cx="1061.08" cy="871.94" rx="8.2" ry="7.55" fill="#009600"/>
<ellipse cx="1065.36" cy="856.53" rx="8.2" ry="7.55" fill="#009600"/>
<ellipse cx="1069.65" cy="837.85" rx="8.2" ry="7.55" fill="#009600"/>
<ellipse cx="1073.93" cy="815.19" rx="8.2" ry="7.55" fill="#009600"/>
<ellipse cx="1078.22" cy="786.93" rx="8.2" ry="7.55" fill="#009600"/>
<ellipse cx="1082.5" cy="751.49" rx="8.2" ry="7.55" fill="#009600"/>
<ellipse cx="1086.79" cy="706.95" rx="8.2" ry="7.55" fill="#009600"/>
<ellipse cx="1091.07" cy="658.9" rx="8.2" ry="7.55" fill="#009600"/>
<ellipse cx="1095.36" cy="615.8" rx="8.2" ry="7.55" fill="#009600"/>
<ellipse cx="1099.64" cy="578.84" rx="8.2" ry="7.55" fill="#009600"/>
<ellipse cx="1103.93" cy="548.91" rx="8.2" ry="7.55" fill="#009600"/>
<ellipse cx="1108.21" cy="524.33" rx="8.2" ry="7.55" fill="#009600"/>
<ellipse cx="1112.5" cy="504.05" rx="8.2" ry="7.55" fill="#009600"/>
<ellipse cx="1116.78" cy="487.29" rx="8.2" ry="7.55" fill="#009600"/>
<ellipse cx="1121.07" cy="473.32" rx="8.2" ry="7.55" fill="#009600"/>
<ellipse cx="1125.35" cy="461.11" rx="8.2" ry="7.55" fill="#009600"/>
<ellipse cx="1129.64" cy="450.97" rx="8.2" ry="7.55" fill="#009600"/>
<ellipse cx="1133.92" cy="442.19" rx="8.2" ry="7.55" fill="#009600"/>
<ellipse cx="1138.21" cy="435.41" rx="8.2" ry="7.55" fill="#009600"/>
<ellipse cx="1142.49" cy="429.02" rx="8.2" ry="7.55" fill="#009600"/>
<ellipse cx="1146.78" cy="423.04" rx="8.2" ry="7.55" fill="#009600"/>
<ellipse cx="1151.06" cy="417.45" rx="8.2" ry="7.55" fill="#009600"/>
<ellipse cx="1155.35" cy="412.26" rx="8.2" ry="7.55" fill="#009600"/>
<ellipse cx="1159.63" cy="407.47" rx="8.2" ry="7.55" fill="#009600"/>
<ellipse cx="1163.92" cy="402.68" rx="8.2" ry="7.55" fill="#009600"/>
<ellipse cx="1168.2" cy="397.89" rx="8.2" ry="7.55" fill="#009600"/>
<ellipse cx="1172.49" cy="393.1" rx="8.2" ry="7.55" fill="#009600"/>
<ellipse cx="1215.55" cy="365.17" rx="8.2" ry="7.55" fill="#009600"/>
<ellipse cx="1258.4" cy="345.61" rx="8.2" ry="7.55" fill="#009600"/>
<ellipse cx="1301.25" cy="332.44" rx="8.2" ry="7.55" fill="#009600"/>
<ellipse cx="1344.1" cy="322.86" rx="8.2" ry="7.55" fill="#009600"/>
<ellipse cx="1386.95" cy="313.29" rx="8.2" ry="7.55" fill="#009600"/>
<ellipse cx="1429.8" cy="306.1" rx="8.2" ry="7.55" fill="#009600"/>
<ellipse cx="1472.65" cy="299.72" rx="8.2" ry="7.55" fill="#009600"/>
<ellipse cx="1515.5" cy="294.93" rx="8.2" ry="7.55" fill="#009600"/>
<ellipse cx="1558.35" cy="290.46" rx="8.2" ry="7.55" fill="#009600"/>
<ellipse cx="1601.2" cy="285.35" rx="8.2" ry="7.55" fill="#009600"/>
<ellipse cx="1644.05" cy="281.36" rx="8.2" ry="7.55" fill="#009600"/>
<ellipse cx="1686.9" cy="278.17" rx="8.2" ry="7.55" fill="#009600"/>
<ellipse cx="1729.75" cy="274.97" rx="8.2" ry="7.55" fill="#009600"/>
<ellipse cx="1772.6" cy="271.78" rx="8.2" ry="7.55" fill="#009600"/>
<ellipse cx="1815.45" cy="268.59" rx="8.2" ry="7.55" fill="#009600"/>
<ellipse cx="1858.3" cy="265.79" rx="8.2" ry="7.55" fill="#009600"/>
<ellipse cx="1901.15" cy="263" rx="8.2" ry="7.55" fill="#009600"/>
<ellipse cx="1944" cy="260.61" rx="8.2" ry="7.55" fill="#009600"/>
</g>
<line x1="308.3" y1="168.47" x2="472" y2="168.47" stroke="#ff0000" stroke-width="3.1" />
<rect x="382.95" y="161.95" width="14.1" height="13.1" fill="#ff0000"/>
<line x1="308.3" y1="250.5" x2="472" y2="250.5" stroke="#008400" stroke-width="3.1" />
<ellipse cx="390" cy="250.5" rx="8.2" ry="7.5" fill="#009600"/>
<text transform="translate(488.12,192.3) scale(1.0703,1)" font-size="67.2">CoFe</text>
<text transform="translate(0,272.7)">
<tspan x="487.21" y="0" font-size="67.2" textLength="72.54" lengthAdjust="spacingAndGlyphs">Fe</tspan><tspan x="559.79" y="17.5" font-size="44" textLength="22.18" lengthAdjust="spacingAndGlyphs">3</tspan><tspan x="585.23" y="0" font-size="67.2" textLength="51.82" lengthAdjust="spacingAndGlyphs">O</tspan><tspan x="636.63" y="17.5" font-size="44" textLength="24.3" lengthAdjust="spacingAndGlyphs">4</tspan>
</text>
</g>
<!-- panel (b): zoom of the low-field region -->
<g id="panel-b">
<path d="M428.5 1563 V2546.4 H1747.4 V1563" fill="none" stroke="#000" stroke-width="5.0"/>
<line x1="407" y1="1565" x2="1749.9" y2="1565" stroke="#000" stroke-width="4" />
<line x1="406" y1="2546.4" x2="428.5" y2="2546.4" stroke="#000" stroke-width="5" />
<line x1="416" y1="2464.62" x2="428.5" y2="2464.62" stroke="#000" stroke-width="5" />
<line x1="406" y1="2382.83" x2="428.5" y2="2382.83" stroke="#000" stroke-width="5" />
<line x1="416" y1="2301.05" x2="428.5" y2="2301.05" stroke="#000" stroke-width="5" />
<line x1="406" y1="2219.27" x2="428.5" y2="2219.27" stroke="#000" stroke-width="5" />
<line x1="416" y1="2137.48" x2="428.5" y2="2137.48" stroke="#000" stroke-width="5" />
<line x1="406" y1="2055.7" x2="428.5" y2="2055.7" stroke="#000" stroke-width="5" />
<line x1="416" y1="1973.92" x2="428.5" y2="1973.92" stroke="#000" stroke-width="5" />
<line x1="406" y1="1892.13" x2="428.5" y2="1892.13" stroke="#000" stroke-width="5" />
<line x1="416" y1="1810.35" x2="428.5" y2="1810.35" stroke="#000" stroke-width="5" />
<line x1="406" y1="1728.57" x2="428.5" y2="1728.57" stroke="#000" stroke-width="5" />
<line x1="416" y1="1646.78" x2="428.5" y2="1646.78" stroke="#000" stroke-width="5" />
<line x1="428.5" y1="2546.4" x2="428.5" y2="2565.9" stroke="#000" stroke-width="5" />
<line x1="538.41" y1="2546.4" x2="538.41" y2="2556.1" stroke="#000" stroke-width="5" />
<line x1="648.32" y1="2546.4" x2="648.32" y2="2565.9" stroke="#000" stroke-width="5" />
<line x1="758.23" y1="2546.4" x2="758.23" y2="2556.1" stroke="#000" stroke-width="5" />
<line x1="868.13" y1="2546.4" x2="868.13" y2="2565.9" stroke="#000" stroke-width="5" />
<line x1="978.04" y1="2546.4" x2="978.04" y2="2556.1" stroke="#000" stroke-width="5" />
<line x1="1087.95" y1="2546.4" x2="1087.95" y2="2565.9" stroke="#000" stroke-width="5" />
<line x1="1197.86" y1="2546.4" x2="1197.86" y2="2556.1" stroke="#000" stroke-width="5" />
<line x1="1307.77" y1="2546.4" x2="1307.77" y2="2565.9" stroke="#000" stroke-width="5" />
<line x1="1417.68" y1="2546.4" x2="1417.68" y2="2556.1" stroke="#000" stroke-width="5" />
<line x1="1527.58" y1="2546.4" x2="1527.58" y2="2565.9" stroke="#000" stroke-width="5" />
<line x1="1637.49" y1="2546.4" x2="1637.49" y2="2556.1" stroke="#000" stroke-width="5" />
<line x1="1747.4" y1="2546.4" x2="1747.4" y2="2565.9" stroke="#000" stroke-width="5" />
<line x1="560.39" y1="1565" x2="560.39" y2="1574.7" stroke="#000" stroke-width="5" />
<line x1="692.28" y1="1565" x2="692.28" y2="1584" stroke="#000" stroke-width="5" />
<line x1="824.17" y1="1565" x2="824.17" y2="1574.7" stroke="#000" stroke-width="5" />
<line x1="956.06" y1="1565" x2="956.06" y2="1584" stroke="#000" stroke-width="5" />
<line x1="1219.84" y1="1565" x2="1219.84" y2="1584" stroke="#000" stroke-width="5" />
<line x1="1351.73" y1="1565" x2="1351.73" y2="1574.7" stroke="#000" stroke-width="5" />
<line x1="1483.62" y1="1565" x2="1483.62" y2="1584" stroke="#000" stroke-width="5" />
<line x1="1615.51" y1="1565" x2="1615.51" y2="1574.7" stroke="#000" stroke-width="5" />
<line x1="1736.8" y1="1663.14" x2="1747.4" y2="1663.14" stroke="#000" stroke-width="5" />
<line x1="1726.1" y1="1761.28" x2="1747.4" y2="1761.28" stroke="#000" stroke-width="5" />
<line x1="1736.8" y1="1859.42" x2="1747.4" y2="1859.42" stroke="#000" stroke-width="5" />
<line x1="1726.1" y1="1957.56" x2="1747.4" y2="1957.56" stroke="#000" stroke-width="5" />
<line x1="1726.1" y1="2153.84" x2="1747.4" y2="2153.84" stroke="#000" stroke-width="5" />
<line x1="1736.8" y1="2251.98" x2="1747.4" y2="2251.98" stroke="#000" stroke-width="5" />
<line x1="1726.1" y1="2350.12" x2="1747.4" y2="2350.12" stroke="#000" stroke-width="5" />
<line x1="1736.8" y1="2448.26" x2="1747.4" y2="2448.26" stroke="#000" stroke-width="5" />
<line x1="1088.55" y1="1565" x2="1088.55" y2="2546.4" stroke="#000" stroke-width="4.8" />
<line x1="428.5" y1="2055.55" x2="1747.4" y2="2055.55" stroke="#000" stroke-width="4.9" />
<text transform="translate(334.71,2558.2) scale(1.0850,1)" font-size="41.2">-30</text>
<text transform="translate(334.71,2394.63) scale(1.0850,1)" font-size="41.2">-20</text>
<text transform="translate(334.71,2231.07) scale(1.0850,1)" font-size="41.2">-10</text>
<text transform="translate(371.93,2067.5) scale(1.0850,1)" font-size="41.2">0</text>
<text transform="translate(349.57,1903.93) scale(1.0850,1)" font-size="41.2">10</text>
<text transform="translate(349.57,1740.37) scale(1.0850,1)" font-size="41.2">20</text>
<text transform="translate(349.57,1576.8) scale(1.0850,1)" font-size="41.2">30</text>
<text transform="translate(410.25,2610.6) scale(1.0850,1)" font-size="41.2">-3</text>
<text transform="translate(630.4,2610.6) scale(1.0850,1)" font-size="41.2">-2</text>
<text transform="translate(850.33,2610.6) scale(1.0850,1)" font-size="41.2">-1</text>
<text transform="translate(1077.07,2610.6) scale(1.0850,1)" font-size="41.2">0</text>
<text transform="translate(1296.28,2610.6) scale(1.0850,1)" font-size="41.2">1</text>
<text transform="translate(1516.99,2610.6) scale(1.0850,1)" font-size="41.2">2</text>
<text transform="translate(1736.36,2610.6) scale(1.0850,1)" font-size="41.2">3</text>
<text transform="translate(730.95,2690.2) scale(1.0776,1)" font-size="51.3">Applied magnetic field, H (<tspan font-style="italic">k</tspan>O<tspan font-style="italic">e</tspan>)</text>
<text transform="translate(309.8,0) rotate(-90)">
<tspan x="-2504.92" y="0" font-size="51.6" textLength="280.63" lengthAdjust="spacingAndGlyphs">Mass-relative</tspan><tspan x="-2226.46" y="0" font-size="51.6" textLength="316.11" lengthAdjust="spacingAndGlyphs"> magnetization,</tspan><tspan x="-1914.23" y="0" font-size="51.6" textLength="64.77" lengthAdjust="spacingAndGlyphs"> M</tspan><tspan x="-1854.34" y="0" font-size="51.6" textLength="69.72" lengthAdjust="spacingAndGlyphs"> (A</tspan><tspan x="-1789.45" y="0" font-size="51.6" textLength="57.36" lengthAdjust="spacingAndGlyphs"> m</tspan><tspan x="-1736.33" y="-22.1" font-size="34.2" textLength="20.84" lengthAdjust="spacingAndGlyphs">2</tspan><tspan x="-1708.71" y="0" font-size="51.6" textLength="56.54" lengthAdjust="spacingAndGlyphs">  g</tspan><tspan x="-1653.74" y="-22.1" font-size="34.2" textLength="26.82" lengthAdjust="spacingAndGlyphs">-1</tspan><tspan x="-1626.48" y="0" font-size="51.6" textLength="20.3" lengthAdjust="spacingAndGlyphs">)</tspan>
</text>
<text transform="translate(1652.79,2511.6) scale(1.1003,1)" font-size="51.5">(b)</text>
<g clip-path="url(#cb)">
<path d="M5482.7,867.95 L5263,871.22 L5043.3,874.49 L4823.6,877.76 L4603.9,882.67 L4384.2,889.21 L4164.5,896.57 L3944.8,903.93 L3725.1,912.1 L3505.4,923.55 L3285.7,935 L3066,948.08 L2846.3,964.43 L2626.6,984.06 L2406.9,1010.22 L2187.2,1040.15 L1967.5,1078.91 L1747.8,1131.24 L1528.1,1204.01 L1527,1206.46 L1505.03,1213 L1483.06,1222.82 L1461.09,1232.63 L1439.12,1242.44 L1417.15,1253.07 L1395.18,1263.7 L1373.21,1275.15 L1351.24,1288.23 L1329.27,1301.31 L1307.3,1315.21 L1285.33,1329.11 L1263.36,1345.47 L1241.39,1361.82 L1219.42,1378.99 L1197.45,1397.8 L1175.48,1417.42 L1153.51,1438.68 L1131.54,1459.94 L1109.57,1487.74 L1087.6,1522.08 L1065.63,1564.6 L1043.66,1602.21 L1021.69,1639.83 L999.72,1679.07 L977.75,1719.96 L955.78,1762.48 L933.81,1807.45 L911.84,1854.38 L889.87,1902.62 L867.9,1954.63 L845.93,2002.05 L823.96,2054.71 L801.99,2101.81 L780.02,2154.14 L758.05,2198.62 L736.08,2245.72 L714.11,2291.51 L692.14,2335.99 L670.17,2379 L648.2,2422.01 L649.3,2419.06 L429.6,2740.4 L209.9,2917.02 L-9.8,3018.41 L-229.5,3080.55 L-449.2,3113.26 L-668.9,3141.06 L-888.6,3159.05 L-1108.3,3173.77 L-1328,3186.85 L-1547.7,3198.3 L-1767.4,3206.47 L-1987.1,3213.83 L-2206.8,3221.19 L-2426.5,3227.73 L-2646.2,3232.64 L-2865.9,3235.91 L-3085.6,3239.18 L-3305.3,3242.45 L-3305.3,3242.45 L-3085.6,3239.18 L-2865.9,3235.91 L-2646.2,3232.64 L-2426.5,3227.73 L-2206.8,3221.19 L-1987.1,3213.83 L-1767.4,3206.47 L-1547.7,3198.3 L-1328,3186.85 L-1108.3,3175.4 L-888.6,3162.32 L-668.9,3145.97 L-449.2,3126.34 L-229.5,3100.18 L-9.8,3070.25 L209.9,3031.49 L429.6,2979.16 L649.3,2906.39 L648.2,2903.94 L670.17,2897.4 L692.14,2887.58 L714.11,2877.77 L736.08,2867.96 L758.05,2857.33 L780.02,2846.7 L801.99,2835.25 L823.96,2822.17 L845.93,2809.09 L867.9,2795.19 L889.87,2781.29 L911.84,2764.93 L933.81,2748.58 L955.78,2731.41 L977.75,2712.6 L999.72,2692.98 L1021.69,2671.72 L1043.66,2650.46 L1065.63,2622.66 L1087.6,2588.32 L1109.57,2545.8 L1131.54,2508.19 L1153.51,2470.57 L1175.48,2431.33 L1197.45,2390.44 L1219.42,2347.92 L1241.39,2302.95 L1263.36,2256.02 L1285.33,2207.78 L1307.3,2155.77 L1329.27,2108.35 L1351.24,2055.69 L1373.21,2008.59 L1395.18,1956.26 L1417.15,1911.78 L1439.12,1864.68 L1461.09,1818.89 L1483.06,1774.41 L1505.03,1731.4 L1527,1688.39 L1528.1,1691.34 L1747.8,1370 L1967.5,1193.38 L2187.2,1091.99 L2406.9,1029.85 L2626.6,997.14 L2846.3,969.34 L3066,951.35 L3285.7,936.63 L3505.4,923.55 L3725.1,912.1 L3944.8,903.93 L4164.5,896.57 L4384.2,889.21 L4603.9,882.67 L4823.6,877.76 L5043.3,874.49 L5263,871.22 L5482.7,867.95" fill="none" stroke="#ff0000" stroke-width="3.1" stroke-linejoin="round"/>
<rect x="1060.13" y="1559.22" width="11" height="10.75" fill="#ff0000"/>
<rect x="1038.16" y="1596.84" width="11" height="10.75" fill="#ff0000"/>
<rect x="1016.19" y="1634.45" width="11" height="10.75" fill="#ff0000"/>
<rect x="994.22" y="1673.7" width="11" height="10.75" fill="#ff0000"/>
<rect x="972.25" y="1714.58" width="11" height="10.75" fill="#ff0000"/>
<rect x="950.28" y="1757.1" width="11" height="10.75" fill="#ff0000"/>
<rect x="928.31" y="1802.07" width="11" height="10.75" fill="#ff0000"/>
<rect x="906.34" y="1849.01" width="11" height="10.75" fill="#ff0000"/>
<rect x="884.37" y="1897.25" width="11" height="10.75" fill="#ff0000"/>
<rect x="862.4" y="1949.25" width="11" height="10.75" fill="#ff0000"/>
<rect x="840.43" y="1996.68" width="11" height="10.75" fill="#ff0000"/>
<rect x="818.46" y="2049.33" width="11" height="10.75" fill="#ff0000"/>
<rect x="796.49" y="2096.43" width="11" height="10.75" fill="#ff0000"/>
<rect x="774.52" y="2148.76" width="11" height="10.75" fill="#ff0000"/>
<rect x="752.55" y="2193.24" width="11" height="10.75" fill="#ff0000"/>
<rect x="730.58" y="2240.34" width="11" height="10.75" fill="#ff0000"/>
<rect x="708.61" y="2286.13" width="11" height="10.75" fill="#ff0000"/>
<rect x="686.64" y="2330.61" width="11" height="10.75" fill="#ff0000"/>
<rect x="664.67" y="2373.62" width="11" height="10.75" fill="#ff0000"/>
<rect x="642.7" y="2416.63" width="11" height="10.75" fill="#ff0000"/>
<rect x="643.8" y="2413.69" width="11" height="10.75" fill="#ff0000"/>
<rect x="1104.07" y="2540.43" width="11" height="10.75" fill="#ff0000"/>
<rect x="1126.04" y="2502.81" width="11" height="10.75" fill="#ff0000"/>
<rect x="1148.01" y="2465.2" width="11" height="10.75" fill="#ff0000"/>
<rect x="1169.98" y="2425.95" width="11" height="10.75" fill="#ff0000"/>
<rect x="1191.95" y="2385.07" width="11" height="10.75" fill="#ff0000"/>
<rect x="1213.92" y="2342.55" width="11" height="10.75" fill="#ff0000"/>
<rect x="1235.89" y="2297.58" width="11" height="10.75" fill="#ff0000"/>
<rect x="1257.86" y="2250.64" width="11" height="10.75" fill="#ff0000"/>
<rect x="1279.83" y="2202.4" width="11" height="10.75" fill="#ff0000"/>
<rect x="1301.8" y="2150.4" width="11" height="10.75" fill="#ff0000"/>
<rect x="1323.77" y="2102.97" width="11" height="10.75" fill="#ff0000"/>
<rect x="1345.74" y="2050.32" width="11" height="10.75" fill="#ff0000"/>
<rect x="1367.71" y="2003.22" width="11" height="10.75" fill="#ff0000"/>
<rect x="1389.68" y="1950.89" width="11" height="10.75" fill="#ff0000"/>
<rect x="1411.65" y="1906.41" width="11" height="10.75" fill="#ff0000"/>
<rect x="1433.62" y="1859.31" width="11" height="10.75" fill="#ff0000"/>
<rect x="1455.59" y="1813.52" width="11" height="10.75" fill="#ff0000"/>
<rect x="1477.56" y="1769.04" width="11" height="10.75" fill="#ff0000"/>
<rect x="1499.53" y="1726.03" width="11" height="10.75" fill="#ff0000"/>
<rect x="1521.5" y="1683.02" width="11" height="10.75" fill="#ff0000"/>
<rect x="1522.6" y="1685.96" width="11" height="10.75" fill="#ff0000"/>
</g>
<g clip-path="url(#cb)">
<path d="M5482.7,1193.38 L5263,1198.29 L5043.3,1204.01 L4823.6,1209.73 L4603.9,1216.27 L4384.2,1222.82 L4164.5,1229.36 L3944.8,1235.9 L3725.1,1244.07 L3505.4,1254.54 L3285.7,1263.7 L3066,1273.51 L2846.3,1286.59 L2626.6,1301.31 L2406.9,1320.94 L2187.2,1340.56 L1967.5,1367.54 L1747.8,1407.61 L1528.1,1463.21 L1505.03,1472.2 L1483.06,1481.2 L1461.09,1491.01 L1439.12,1500.82 L1417.15,1511.45 L1395.18,1522.9 L1373.21,1535.16 L1351.24,1548.25 L1329.27,1560.51 L1307.3,1575.56 L1285.33,1593.71 L1263.36,1613.66 L1241.39,1637.21 L1219.42,1664.52 L1197.45,1696.08 L1175.48,1734.35 L1153.51,1780.79 L1131.54,1838.68 L1109.57,1911.29 L1087.6,2002.54 L1065.63,2100.99 L1043.66,2189.3 L1021.69,2265.01 L999.72,2326.34 L977.75,2376.71 L955.78,2418.24 L933.81,2452.59 L911.84,2481.2 L889.87,2506.22 L867.9,2526.99 L845.93,2544.98 L823.96,2558.88 L801.99,2571.97 L780.02,2584.23 L758.05,2595.68 L736.08,2606.31 L714.11,2616.12 L692.14,2625.93 L670.17,2635.74 L648.2,2645.56 L429.6,2702.79 L209.9,2742.86 L-9.8,2769.84 L-229.5,2789.46 L-449.2,2809.09 L-668.9,2823.81 L-888.6,2836.89 L-1108.3,2846.7 L-1328,2855.86 L-1547.7,2866.33 L-1767.4,2874.5 L-1987.1,2881.04 L-2206.8,2887.58 L-2426.5,2894.13 L-2646.2,2900.67 L-2865.9,2906.39 L-3085.6,2912.11 L-3305.3,2917.02 L-3305.3,2917.02 L-3085.6,2912.11 L-2865.9,2906.39 L-2646.2,2900.67 L-2426.5,2894.13 L-2206.8,2887.58 L-1987.1,2881.04 L-1767.4,2874.5 L-1547.7,2866.33 L-1328,2855.86 L-1108.3,2846.7 L-888.6,2836.89 L-668.9,2823.81 L-449.2,2809.09 L-229.5,2789.46 L-9.8,2769.84 L209.9,2742.86 L429.6,2702.79 L649.3,2647.19 L670.17,2638.2 L692.14,2629.2 L714.11,2619.39 L736.08,2609.58 L758.05,2598.95 L780.02,2587.5 L801.99,2575.24 L823.96,2562.15 L845.93,2549.89 L867.9,2534.84 L889.87,2516.69 L911.84,2496.74 L933.81,2473.19 L955.78,2445.88 L977.75,2414.32 L999.72,2376.05 L1021.69,2329.61 L1043.66,2271.72 L1065.63,2199.11 L1087.6,2107.86 L1109.57,2009.41 L1131.54,1921.1 L1153.51,1845.39 L1175.48,1784.06 L1197.45,1733.69 L1219.42,1692.16 L1241.39,1657.81 L1263.36,1629.2 L1285.33,1604.18 L1307.3,1583.41 L1329.27,1565.42 L1351.24,1551.52 L1373.21,1538.43 L1395.18,1526.17 L1417.15,1514.72 L1439.12,1504.09 L1461.09,1494.28 L1483.06,1484.47 L1505.03,1474.66 L1527,1464.84 L1747.8,1407.61 L1967.5,1367.54 L2187.2,1340.56 L2406.9,1320.94 L2626.6,1301.31 L2846.3,1286.59 L3066,1273.51 L3285.7,1263.7 L3505.4,1254.54 L3725.1,1244.07 L3944.8,1235.9 L4164.5,1229.36 L4384.2,1222.82 L4603.9,1216.27 L4823.6,1209.73 L5043.3,1204.01 L5263,1198.29 L5482.7,1193.38" fill="none" stroke="#008400" stroke-width="2.3" stroke-linejoin="round"/>
<ellipse cx="1329.27" cy="1560.51" rx="6.1" ry="5.9" fill="#009600"/>
<ellipse cx="1307.3" cy="1575.56" rx="6.1" ry="5.9" fill="#009600"/>
<ellipse cx="1285.33" cy="1593.71" rx="6.1" ry="5.9" fill="#009600"/>
<ellipse cx="1263.36" cy="1613.66" rx="6.1" ry="5.9" fill="#009600"/>
<ellipse cx="1241.39" cy="1637.21" rx="6.1" ry="5.9" fill="#009600"/>
<ellipse cx="1219.42" cy="1664.52" rx="6.1" ry="5.9" fill="#009600"/>
<ellipse cx="1197.45" cy="1696.08" rx="6.1" ry="5.9" fill="#009600"/>
<ellipse cx="1175.48" cy="1734.35" rx="6.1" ry="5.9" fill="#009600"/>
<ellipse cx="1153.51" cy="1780.79" rx="6.1" ry="5.9" fill="#009600"/>
<ellipse cx="1131.54" cy="1838.68" rx="6.1" ry="5.9" fill="#009600"/>
<ellipse cx="1109.57" cy="1911.29" rx="6.1" ry="5.9" fill="#009600"/>
<ellipse cx="1087.6" cy="2002.54" rx="6.1" ry="5.9" fill="#009600"/>
<ellipse cx="1065.63" cy="2100.99" rx="6.1" ry="5.9" fill="#009600"/>
<ellipse cx="1043.66" cy="2189.3" rx="6.1" ry="5.9" fill="#009600"/>
<ellipse cx="1021.69" cy="2265.01" rx="6.1" ry="5.9" fill="#009600"/>
<ellipse cx="999.72" cy="2326.34" rx="6.1" ry="5.9" fill="#009600"/>
<ellipse cx="977.75" cy="2376.71" rx="6.1" ry="5.9" fill="#009600"/>
<ellipse cx="955.78" cy="2418.24" rx="6.1" ry="5.9" fill="#009600"/>
<ellipse cx="933.81" cy="2452.59" rx="6.1" ry="5.9" fill="#009600"/>
<ellipse cx="911.84" cy="2481.2" rx="6.1" ry="5.9" fill="#009600"/>
<ellipse cx="889.87" cy="2506.22" rx="6.1" ry="5.9" fill="#009600"/>
<ellipse cx="867.9" cy="2526.99" rx="6.1" ry="5.9" fill="#009600"/>
<ellipse cx="845.93" cy="2544.98" rx="6.1" ry="5.9" fill="#009600"/>
<ellipse cx="845.93" cy="2549.89" rx="6.1" ry="5.9" fill="#009600"/>
<ellipse cx="867.9" cy="2534.84" rx="6.1" ry="5.9" fill="#009600"/>
<ellipse cx="889.87" cy="2516.69" rx="6.1" ry="5.9" fill="#009600"/>
<ellipse cx="911.84" cy="2496.74" rx="6.1" ry="5.9" fill="#009600"/>
<ellipse cx="933.81" cy="2473.19" rx="6.1" ry="5.9" fill="#009600"/>
<ellipse cx="955.78" cy="2445.88" rx="6.1" ry="5.9" fill="#009600"/>
<ellipse cx="977.75" cy="2414.32" rx="6.1" ry="5.9" fill="#009600"/>
<ellipse cx="999.72" cy="2376.05" rx="6.1" ry="5.9" fill="#009600"/>
<ellipse cx="1021.69" cy="2329.61" rx="6.1" ry="5.9" fill="#009600"/>
<ellipse cx="1043.66" cy="2271.72" rx="6.1" ry="5.9" fill="#009600"/>
<ellipse cx="1065.63" cy="2199.11" rx="6.1" ry="5.9" fill="#009600"/>
<ellipse cx="1087.6" cy="2107.86" rx="6.1" ry="5.9" fill="#009600"/>
<ellipse cx="1109.57" cy="2009.41" rx="6.1" ry="5.9" fill="#009600"/>
<ellipse cx="1131.54" cy="1921.1" rx="6.1" ry="5.9" fill="#009600"/>
<ellipse cx="1153.51" cy="1845.39" rx="6.1" ry="5.9" fill="#009600"/>
<ellipse cx="1175.48" cy="1784.06" rx="6.1" ry="5.9" fill="#009600"/>
<ellipse cx="1197.45" cy="1733.69" rx="6.1" ry="5.9" fill="#009600"/>
<ellipse cx="1219.42" cy="1692.16" rx="6.1" ry="5.9" fill="#009600"/>
<ellipse cx="1241.39" cy="1657.81" rx="6.1" ry="5.9" fill="#009600"/>
<ellipse cx="1263.36" cy="1629.2" rx="6.1" ry="5.9" fill="#009600"/>
<ellipse cx="1285.33" cy="1604.18" rx="6.1" ry="5.9" fill="#009600"/>
<ellipse cx="1307.3" cy="1583.41" rx="6.1" ry="5.9" fill="#009600"/>
<ellipse cx="1329.27" cy="1565.42" rx="6.1" ry="5.9" fill="#009600"/>
</g>
<line x1="488" y1="1661.45" x2="614" y2="1661.45" stroke="#ff0000" stroke-width="3.1" />
<rect x="544.95" y="1655.9" width="12.1" height="11.1" rx="1" fill="#ff0000"/>
<line x1="488" y1="1723.9" x2="614" y2="1723.9" stroke="#008400" stroke-width="2.3" />
<ellipse cx="551" cy="1723.9" rx="6.15" ry="6.05" fill="#009600"/>
<text transform="translate(626.47,1678.6) scale(1.0862,1)" font-size="51.3">CoFe</text>
<text transform="translate(0,1742.2)">
<tspan x="626.35" y="0" font-size="51.3" textLength="56.22" lengthAdjust="spacingAndGlyphs">Fe</tspan><tspan x="682.02" y="13.6" font-size="35" textLength="17.7" lengthAdjust="spacingAndGlyphs">3</tspan><tspan x="700.42" y="0" font-size="51.3" textLength="41.14" lengthAdjust="spacingAndGlyphs">O</tspan><tspan x="740.37" y="13.6" font-size="35" textLength="18.17" lengthAdjust="spacingAndGlyphs">4</tspan>
</text>
</g>
<!-- dashed zoom box, inset box and connectors -->
<g fill="none" stroke="#000" stroke-dasharray="25.7 7.64">
<path d="M997.6 441.9 H1155.6 V866.6 H997.6 Z" stroke-width="9"/>
<path d="M161.3 1524.7 H1901 V2731.5 H161.3 Z" stroke-width="9"/>
<path d="M997.6 871.5 L163 1526.6" stroke-width="9.2" stroke-dashoffset="-8"/>
<path d="M1152 869 L1896.5 1528" stroke-width="9.2"/>
</g>
</svg>
</body></html>
